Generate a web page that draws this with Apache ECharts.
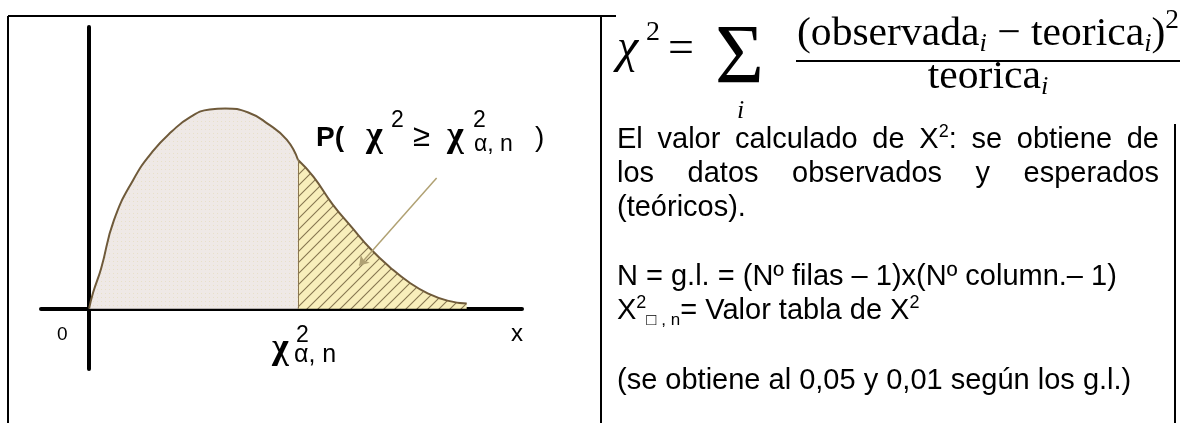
<!DOCTYPE html>
<html>
<head>
<meta charset="utf-8">
<script src="https://cdn.jsdelivr.net/npm/echarts@6/dist/echarts.min.js"></script>
<style>
html, body { margin: 0; padding: 0; background: #fff; }
#main { width: 1180px; height: 423px; }
</style>
</head>
<body>
<div id="main"></div>
<script>
// curve (x in chi2 units, y = density)
var bodyX = [0, 0.1, 0.3, 0.62, 1.1, 1.58, 2.06, 2.54, 3.01, 3.4, 3.97, 4.45, 4.93, 5.21];
var bodyY = [0, 0.016, 0.04, 0.088, 0.128, 0.156, 0.176, 0.191, 0.198, 0.199, 0.195, 0.184, 0.168, 0.148];
var tailX = [5.21, 5.6, 6.07, 6.55, 7.03, 7.51, 7.99, 8.46, 8.94, 9.42];
var tailY = [0.148, 0.131, 0.104, 0.081, 0.059, 0.041, 0.026, 0.015, 0.008, 0.005];
var cutX = 5.21;
var pointerFrom = [8.67, 0.13];
var pointerTo = [6.74, 0.043];

// texto del lado derecho
var para1 = [
	['El', 'valor', 'calculado', 'de', ['X', '2', ':'], 'se', 'obtiene', 'de'],
	['los', 'datos', 'observados', 'y', 'esperados']
];
var line3 = '(teóricos).';
var line5 = 'N = g.l. = (Nº filas – 1)x(Nº column.– 1)';
var line6 = ['X', '2', '□ , n', '= Valor tabla de X', '2'];
var line8 = '(se obtiene al 0,05 y 0,01 según los g.l.)';
var baselines = [150, 184, 218, 287, 321, 391];

var SANS = "'Liberation Sans', Arial, sans-serif";
var SERIF = "'Liberation Serif', 'Times New Roman', serif";

var myChart = echarts.init(document.getElementById('main'));
var ctx = document.createElement('canvas').getContext('2d');
var graphics = [];

function fontOf(p) {
	return (p.italic ? 'italic ' : '') + (p.bold ? 'bold ' : '') + p.size + 'px ' + (p.fam || SANS);
}
function widthOf(parts, sx) {
	var w = 0;
	parts.forEach(function (p) {
		ctx.font = fontOf(p);
		w += ctx.measureText(p.t).width * sx;
	});
	return w;
}
// draws a run of pieces on one baseline, returns the end x
function run(x, base, parts, sx) {
	sx = sx || 1;
	parts.forEach(function (p) {
		var f = fontOf(p);
		ctx.font = f;
		if (p.x != null) x = p.x;
		graphics.push({
			type: 'text', x: x, y: base + (p.dy || 0) - p.size * 0.345, scaleX: sx, silent: true,
			style: { text: p.t, font: f, fill: '#000', align: 'left', verticalAlign: 'middle' }
		});
		x += ctx.measureText(p.t).width * sx;
	});
	return x;
}
function hline(x1, y1, x2, y2, w) {
	graphics.push({ type: 'line', silent: true, shape: { x1: x1, y1: y1, x2: x2, y2: y2 }, style: { stroke: '#000', lineWidth: w || 2 } });
}

// patrones de relleno
function dotPattern() {
	var c = document.createElement('canvas');
	c.width = 4; c.height = 4;
	var g = c.getContext('2d');
	g.fillStyle = '#efe9e6'; g.fillRect(0, 0, 4, 4);
	g.fillStyle = '#e8e0c9'; g.fillRect(1, 1, 1, 1);
	return c;
}
function hatchPattern() {
	var c = document.createElement('canvas');
	c.width = 11; c.height = 11;
	var g = c.getContext('2d');
	g.fillStyle = '#f8eebb'; g.fillRect(0, 0, 11, 11);
	g.strokeStyle = '#85744f'; g.lineWidth = 1.1;
	g.beginPath(); g.moveTo(-1, 12); g.lineTo(12, -1); g.stroke();
	g.beginPath(); g.moveTo(-1, 1); g.lineTo(1, -1); g.stroke();
	g.beginPath(); g.moveTo(10, 12); g.lineTo(12, 10); g.stroke();
	return c;
}
function zip(xs, ys) {
	return xs.map(function (x, i) { return [x, ys[i]]; });
}

// bordes de la tabla
hline(8, 16, 616, 16, 2);
hline(8, 16, 8, 423, 2);
hline(601, 16, 601, 423, 2);
hline(1175, 124, 1175, 423, 2);

// etiquetas del grafico
run(57, 341, [{ t: '0', size: 19 }]);
run(511, 343, [{ t: 'x', size: 24 }]);
run(0, 364, [
	{ t: 'χ', size: 36, fam: SERIF, bold: true, x: 272, dy: -3 },
	{ t: '2', size: 23, x: 296, dy: -20 },
	{ t: 'α, n', size: 25, x: 294 }
]);
run(0, 148, [
	{ t: 'P(', size: 28, bold: true, x: 316 },
	{ t: 'χ', size: 36, fam: SERIF, bold: true, x: 366, dy: 1 },
	{ t: '2', size: 23, x: 391, dy: -19 },
	{ t: '≥', size: 31, x: 413 },
	{ t: 'χ', size: 36, fam: SERIF, bold: true, x: 447, dy: 1 },
	{ t: '2', size: 23, x: 473, dy: -19 },
	{ t: 'α, n', size: 23, x: 474, dy: 5 },
	{ t: ')', size: 28, x: 535 }
]);

// formula
run(0, 66, [
	{ t: 'χ', size: 48, fam: SERIF, italic: true, x: 617 },
	{ t: '2', size: 28, fam: SERIF, x: 646, dy: -24 },
	{ t: '=', size: 46, fam: SERIF, x: 668 }
]);
run(715, 90, [{ t: 'Σ', size: 84, fam: SERIF }]);
run(737, 120, [{ t: 'i', size: 26, fam: SERIF, italic: true }]);
var numParts = [
	{ t: '(observada', size: 41, fam: SERIF },
	{ t: 'i', size: 26, fam: SERIF, italic: true, dy: 5 },
	{ t: ' − teorica', size: 41, fam: SERIF },
	{ t: 'i', size: 26, fam: SERIF, italic: true, dy: 5 },
	{ t: ')', size: 41, fam: SERIF },
	{ t: '2', size: 27, fam: SERIF, dy: -18 }
];
var numSx = 382 / widthOf(numParts, 1);
run(797, 48, numParts, numSx);
hline(796, 61, 1180, 61, 2);
var denParts = [
	{ t: 'teorica', size: 41, fam: SERIF },
	{ t: 'i', size: 26, fam: SERIF, italic: true, dy: 5 }
];
run(988 - widthOf(denParts, numSx) / 2, 91, denParts, numSx);

// parrafos
var F = 29, X0 = 617, X1 = 1159;
function wordParts(w) {
	if (typeof w === 'string') return [{ t: w, size: F }];
	return [{ t: w[0], size: F }, { t: w[1], size: 18, dy: -12 }, { t: w[2], size: F }];
}
para1.forEach(function (words, li) {
	var parts = words.map(wordParts);
	var total = 0;
	parts.forEach(function (p) { total += widthOf(p, 1); });
	var gap = (X1 - X0 - total) / (parts.length - 1);
	var x = X0;
	parts.forEach(function (p) { x = run(x, baselines[li], p) + gap; });
});
run(X0, baselines[2], [{ t: line3, size: F }]);
run(X0, baselines[3], [{ t: line5, size: F }]);
run(X0, baselines[4], [
	{ t: line6[0], size: F },
	{ t: line6[1], size: 18, dy: -12 },
	{ t: line6[2], size: 17, dy: 5 },
	{ t: line6[3], size: F },
	{ t: line6[4], size: 18, dy: -12 }
]);
run(X0, baselines[5], [{ t: line8, size: F }]);

option = {
	animation: false,
	grid: { left: 41, top: 27, width: 481, height: 342, containLabel: false },
	xAxis: {
		type: 'value', min: -1.2, max: 10.8,
		axisLine: { onZero: true, lineStyle: { color: '#000', width: 4 } },
		axisTick: { show: false }, axisLabel: { show: false }, splitLine: { show: false }
	},
	yAxis: {
		type: 'value', min: -0.06, max: 0.28,
		axisLine: { show: true, onZero: true, lineStyle: { color: '#000', width: 4 } },
		axisTick: { show: false }, axisLabel: { show: false }, splitLine: { show: false }
	},
	series: [
		{
			name: 'cuerpo', type: 'line', data: zip(bodyX, bodyY), smooth: true, symbol: 'none', z: 1,
			lineStyle: { color: '#6f5a3a', width: 2 },
			areaStyle: { color: { image: dotPattern(), repeat: 'repeat' }, opacity: 1 }
		},
		{
			name: 'cola', type: 'line', data: zip(tailX, tailY), smooth: true, symbol: 'none', z: 1,
			lineStyle: { color: '#6f5a3a', width: 2 },
			areaStyle: { color: { image: hatchPattern(), repeat: 'repeat' }, opacity: 1 },
			markLine: {
				silent: true, symbol: 'none', label: { show: false },
				data: [
					[{ coord: [cutX, 0], lineStyle: { color: '#8a7650', width: 1, type: 'solid' } }, { coord: [cutX, tailY[0]] }],
					[
						{ coord: pointerFrom, symbol: 'none', lineStyle: { color: '#b0a173', width: 1.5, type: 'solid' } },
						{ coord: pointerTo, symbol: 'arrow', symbolSize: 9, itemStyle: { color: '#5a4a30' } }
					]
				]
			}
		}
	],
	graphic: graphics
};

myChart.setOption(option);
window.addEventListener("resize", function () {
	myChart.resize();
});
</script>
</body>
</html>
